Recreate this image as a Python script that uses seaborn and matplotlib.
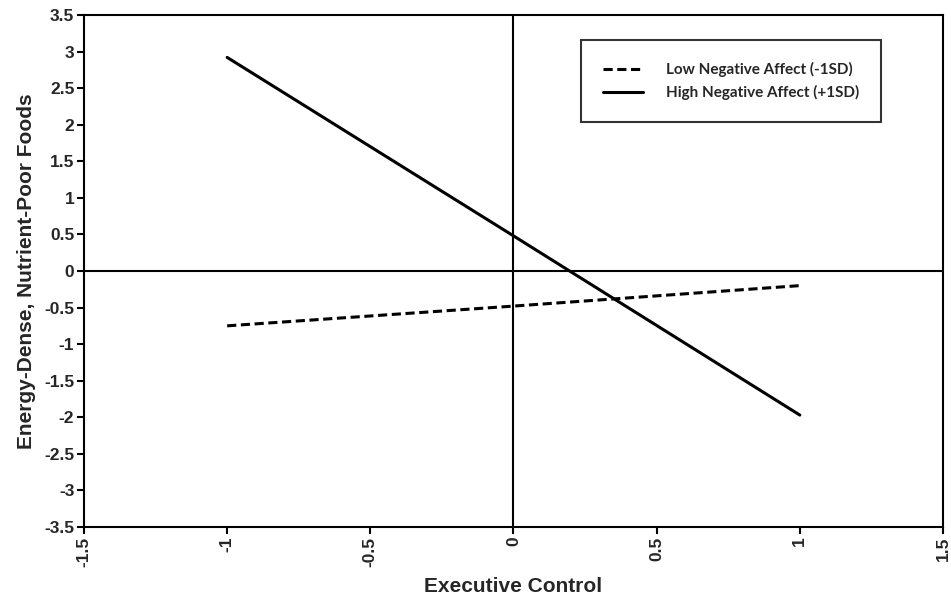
import pandas as pd
import matplotlib
matplotlib.use("Agg")
import matplotlib.pyplot as plt
import seaborn as sns

# values
exec_control = [-1, 0, 1]
low_na = [-0.75, -0.48, -0.20]
high_na = [2.92, 0.48, -1.97]
series_names = ["Low Negative Affect (-1SD)", "High Negative Affect (+1SD)"]
x_ticks = [-1.5, -1, -0.5, 0, 0.5, 1, 1.5]
y_ticks = [-3.5, -3, -2.5, -2, -1.5, -1, -0.5, 0, 0.5, 1, 1.5, 2, 2.5, 3, 3.5]

df = pd.DataFrame({
    "Executive Control": exec_control * 2,
    "value": low_na + high_na,
    "group": [series_names[0]] * 3 + [series_names[1]] * 3,
})

sns.set_style("white")
plt.rcParams["font.family"] = ["Liberation Sans", "DejaVu Sans"]

fig = plt.figure(figsize=(9.51, 6.04), dpi=100)
ax = fig.add_axes([0.0883, 0.1275, 0.9033, 0.8477])

sns.lineplot(data=df, x="Executive Control", y="value", hue="group", style="group",
             palette=["black", "black"], dashes=[(3, 1.5), ""], linewidth=2.2,
             ax=ax, legend=True)

ax.axhline(0, color="black", lw=1.5, zorder=1)
ax.axvline(0, color="black", lw=1.5, zorder=1)

ax.set_xlim(-1.5, 1.5)
ax.set_ylim(-3.5, 3.5)
ax.set_xticks(x_ticks)
ax.set_xticklabels([f"{t:g}" for t in x_ticks], rotation=90, fontweight="bold", fontsize=12.5)
ax.set_yticks(y_ticks)
ax.set_yticklabels([f"{t:g}" for t in y_ticks], fontweight="bold", fontsize=12.5)
ax.tick_params(axis="both", which="major", direction="out", length=5, width=1.5,
               color="black", pad=2, left=True, bottom=True)

for sp in ax.spines.values():
    sp.set_color("black")
    sp.set_linewidth(1.5)

ax.set_xlabel("Executive Control", fontsize=15, fontweight="bold")
ax.xaxis.set_label_coords(0.5, -0.098)
ax.set_ylabel("Energy-Dense, Nutrient-Poor Foods", fontsize=15, fontweight="bold", labelpad=6)

handles, labels = ax.get_legend_handles_labels()
leg = ax.legend(handles, labels, loc="upper left", bbox_to_anchor=(0.5786, 0.951),
                frameon=True, fancybox=False, handlelength=2.6,
                borderpad=1.45, labelspacing=0.5, handletextpad=1.5, borderaxespad=0,
                prop={"family": ["Lato", "DejaVu Sans"], "weight": "bold", "size": 11})
leg.get_frame().set_edgecolor("black")
leg.get_frame().set_linewidth(1.5)

fig.savefig("out.png", dpi=100)
